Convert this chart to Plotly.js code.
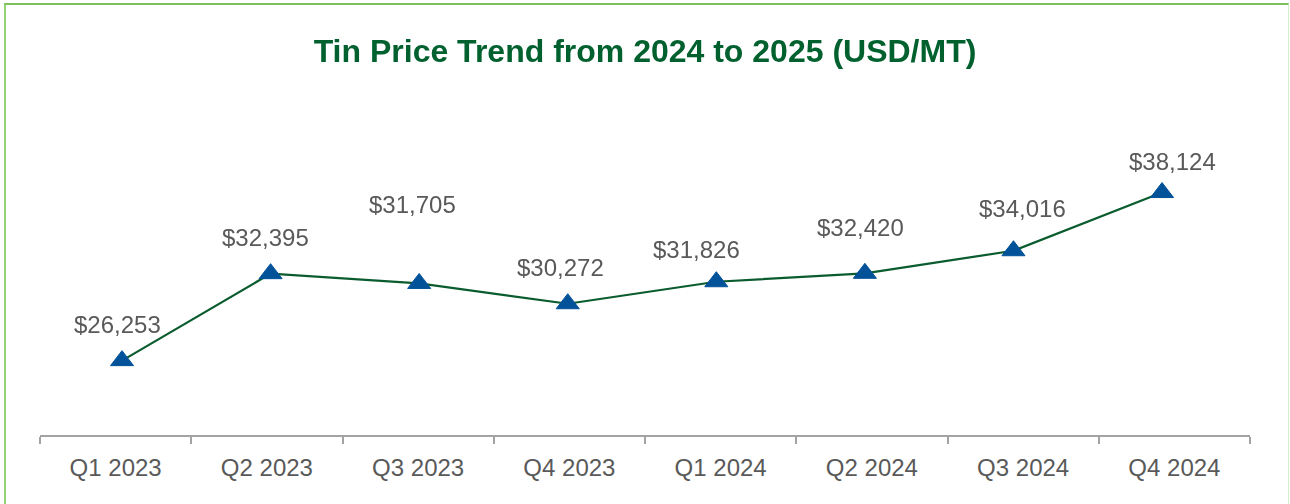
<!DOCTYPE html>
<html>
<head>
<meta charset="utf-8">
<script src="https://cdn.plot.ly/plotly-3.0.1.min.js"></script>
<style>
  html, body { margin: 0; padding: 0; background: #ffffff; }
  #wrap { position: relative; width: 1290px; height: 504px; overflow: hidden; }
  #chart { position: absolute; left: 0; top: 0; width: 1290px; height: 504px; }
  #frame { position: absolute; left: 4px; top: 3px; width: 1282px; height: 600px;
           border-top: 2px solid #7cc05a; border-left: 2px solid #92d274; border-right: 1px solid #d6eecb;
           pointer-events: none; }
</style>
</head>
<body>
<div id="wrap">
  <div id="chart"></div>
  <div id="frame"></div>
</div>
<script>
// ---- data ----
const quarters = ["Q1 2023", "Q2 2023", "Q3 2023", "Q4 2023", "Q1 2024", "Q2 2024", "Q3 2024", "Q4 2024"];
const prices = [26253, 32395, 31705, 30272, 31826, 32420, 34016, 38124];
const priceLabels = ["$26,253", "$32,395", "$31,705", "$30,272", "$31,826", "$32,420", "$34,016", "$38,124"];

// ---- label placement (pixels, relative to each point) ----
const labelDx = [-5, -5, -7, -7, -20, -4, 9, 10];
const labelDy = [36, 36, 79, 36, 32, 46, 42, 31];

const idx = quarters.map((q, i) => i);

const lineTrace = {
  x: idx, y: prices, xaxis: 'x', yaxis: 'y',
  mode: 'lines+markers', type: 'scatter',
  line: { color: '#0a5c2e', width: 2.2 },
  marker: { symbol: 'triangle-up', size: 20, color: '#02529a', line: { color: '#02529a', width: 1 } },
  hoverinfo: 'skip', showlegend: false, cliponaxis: false
};
const catTrace = {
  x: quarters, y: prices, xaxis: 'x2', yaxis: 'y',
  mode: 'markers', type: 'scatter', opacity: 0,
  marker: { size: 1 }, hoverinfo: 'skip', showlegend: false
};

const annotations = quarters.map((q, i) => ({
  x: i, y: prices[i], xref: 'x', yref: 'y',
  text: priceLabels[i], showarrow: false,
  xshift: labelDx[i], yshift: labelDy[i],
  xanchor: 'center', yanchor: 'middle',
  font: { family: 'Liberation Sans, Arial, sans-serif', size: 24, color: '#595959' }
}));

const layout = {
  width: 1290, height: 504,
  margin: { l: 40, r: 40, t: 166, b: 69, pad: 0 },
  paper_bgcolor: '#ffffff', plot_bgcolor: '#ffffff',
  title: {
    text: '<b>Tin Price Trend from 2024 to 2025 (USD/MT)</b>',
    x: 0.5, xanchor: 'center', y: 1 - 51 / 504, yanchor: 'middle', yref: 'container',
    font: { family: 'Liberation Sans, Arial, sans-serif', size: 32, color: '#00612e' }
  },
  xaxis: {
    range: [-0.552, 7.592], visible: false, fixedrange: true
  },
  xaxis2: {
    type: 'category', categoryorder: 'array', categoryarray: quarters,
    range: [-0.5, 7.5], overlaying: 'x', side: 'bottom', anchor: 'y',
    showline: true, linecolor: '#a3a3a3', linewidth: 2,
    ticks: 'outside', tickson: 'boundaries', ticklen: 7, tickwidth: 2, tickcolor: '#a3a3a3',
    showgrid: false, zeroline: false,
    tickfont: { family: 'Liberation Sans, Arial, sans-serif', size: 24, color: '#595959' },
    ticklabelstandoff: 10
  },
  yaxis: {
    range: [21000, 40000], visible: false, showgrid: false, zeroline: false, fixedrange: true
  },
  annotations: annotations,
  showlegend: false
};

Plotly.newPlot('chart', [catTrace, lineTrace], layout, { displayModeBar: false, staticPlot: true });
</script>
</body>
</html>
